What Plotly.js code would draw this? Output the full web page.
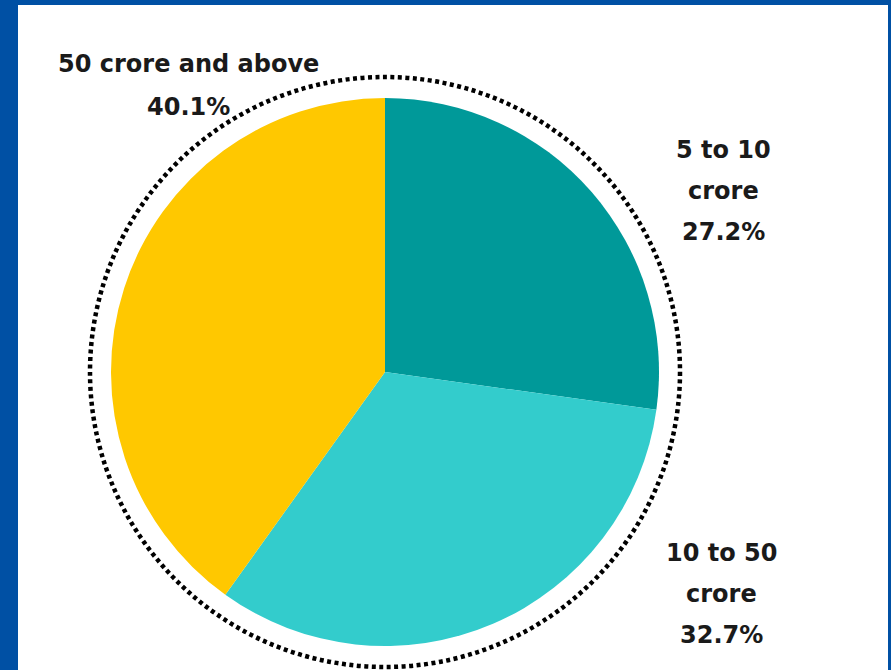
<!DOCTYPE html>
<html>
<head>
<meta charset="utf-8">
<script src="https://cdn.plot.ly/plotly-3.0.1.min.js"></script>
<style>html,body{margin:0;padding:0;background:#fff;}#chart{width:891px;height:670px;}</style>
</head>
<body>
<div id="chart"></div>
<script>
// Data
var categories = ['5 to 10 crore', '10 to 50 crore', '50 crore and above'];
var shares = [27.2, 32.7, 40.1];
var sliceColors = ['#009999', '#33cccc', '#ffc800'];
var labelLines = [['5 to 10', 'crore'], ['10 to 50', 'crore'], ['50 crore and above']];

var W = 891, H = 670;
function px(x) { return x / W; }
function py(y) { return 1 - y / H; }

// label anchor positions (layout): centre x, first-line centre y, line spacing
var labelPos = [
  {x: 723, y: 150, dy: 41},
  {x: 721, y: 553, dy: 41},
  {x: 188, y: 64, dy: 43}
];

var annotations = [];
categories.forEach(function (c, i) {
  var lines = labelLines[i].concat([shares[i].toFixed(1) + '%']);
  lines.forEach(function (t, j) {
    annotations.push({
      xref: 'paper', yref: 'paper',
      x: px(labelPos[i].x), y: py(labelPos[i].y + j * labelPos[i].dy),
      xanchor: 'center', yanchor: 'middle',
      text: t, showarrow: false,
      font: {family: 'DejaVu Sans', size: 24, color: '#1a1a1a', weight: 'bold'}
    });
  });
});

var cx = 385, cy = 372, r = 274, rd = 295;

var data = [{
  type: 'pie',
  labels: categories,
  values: shares,
  sort: false,
  direction: 'clockwise',
  rotation: 0,
  textinfo: 'none',
  hoverinfo: 'label+percent',
  marker: {colors: sliceColors, line: {width: 0}},
  domain: {x: [px(cx - r), px(cx + r)], y: [py(cy + r), py(cy - r)]},
  showlegend: false
}];

var layout = {
  width: W, height: H,
  margin: {l: 0, r: 0, t: 0, b: 0},
  paper_bgcolor: '#0050a4',
  plot_bgcolor: '#ffffff',
  showlegend: false,
  shapes: [
    {type: 'rect', xref: 'paper', yref: 'paper', layer: 'below',
     x0: px(18), x1: px(888), y0: py(670), y1: py(5),
     fillcolor: '#ffffff', line: {width: 0}},
    {type: 'circle', xref: 'paper', yref: 'paper', layer: 'above',
     x0: px(cx - rd), x1: px(cx + rd), y0: py(cy + rd), y1: py(cy - rd),
     line: {color: '#000000', width: 4.5, dash: '4px,3.5px'}}
  ],
  annotations: annotations
};

Plotly.newPlot('chart', data, layout, {displayModeBar: false, staticPlot: true});
</script>
</body>
</html>
